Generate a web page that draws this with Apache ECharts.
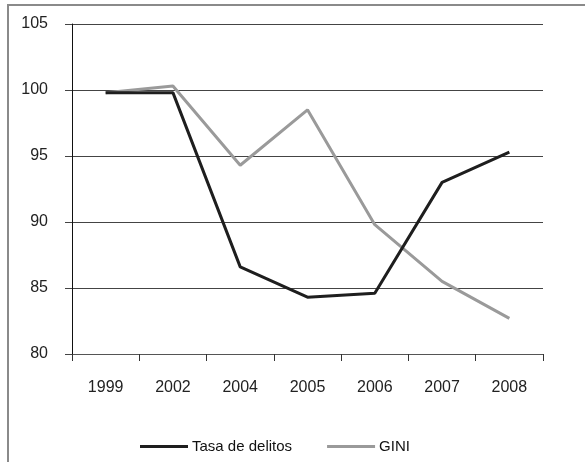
<!DOCTYPE html>
<html>
<head>
<meta charset="utf-8">
<script src="https://cdn.jsdelivr.net/npm/echarts@6/dist/echarts.min.js"></script>
<style>
  html, body { margin: 0; padding: 0; background: #fff; }
  #chart { width: 585px; height: 462px; }
</style>
</head>
<body>
<div id="chart"></div>
<script>
// datos
var years = ['1999', '2002', '2004', '2005', '2006', '2007', '2008'];
var tasaDelitos = [99.8, 99.8, 86.6, 84.3, 84.6, 93.0, 95.3];
var gini = [99.8, 100.3, 94.3, 98.5, 89.8, 85.5, 82.7];
var yTicks = [80, 85, 90, 95, 100, 105];

var chart = echarts.init(document.getElementById('chart'));
var font = '"Liberation Sans", Arial, sans-serif';

var option = {
  animation: false,
  backgroundColor: '#fff',
  textStyle: { fontFamily: font },
  // marco exterior (cortado a la derecha y abajo)
  graphic: [{
    type: 'rect',
    shape: { x: 8, y: 5, width: 700, height: 600 },
    style: { fill: 'none', stroke: '#8a8a8a', lineWidth: 2 },
    silent: true
  }],
  grid: { left: 72, right: 42, top: 24, bottom: 108 },
  legend: {
    top: 434,
    left: 135,
    icon: 'rect',
    itemWidth: 48,
    itemHeight: 3,
    itemGap: 35,
    textStyle: { fontFamily: font, fontSize: 15, color: '#111', padding: [0, 0, 0, -1] },
    data: ['Tasa de delitos', 'GINI']
  },
  xAxis: {
    type: 'category',
    data: years,
    boundaryGap: true,
    axisLine: { lineStyle: { color: '#555', width: 1 } },
    axisTick: { show: true, interval: 0, length: 7, lineStyle: { color: '#333' } },
    axisLabel: { margin: 26, fontSize: 16, color: '#222', fontFamily: font }
  },
  yAxis: {
    type: 'value',
    min: yTicks[0],
    max: yTicks[yTicks.length - 1],
    interval: 5,
    axisLine: { show: true, lineStyle: { color: '#111', width: 1 } },
    axisTick: { show: true, length: 7, lineStyle: { color: '#444' } },
    axisLabel: { margin: 24, fontSize: 16, color: '#222', fontFamily: font },
    splitLine: { show: true, lineStyle: { color: '#444', width: 1 } }
  },
  series: [
    {
      name: 'Tasa de delitos',
      type: 'line',
      data: tasaDelitos,
      symbol: 'none',
      color: '#1e1e1e',
      lineStyle: { color: '#1e1e1e', width: 3 },
      z: 3
    },
    {
      name: 'GINI',
      type: 'line',
      data: gini,
      symbol: 'none',
      color: '#9a9a9a',
      lineStyle: { color: '#9a9a9a', width: 3 },
      z: 2
    }
  ]
};

chart.setOption(option);
</script>
</body>
</html>
